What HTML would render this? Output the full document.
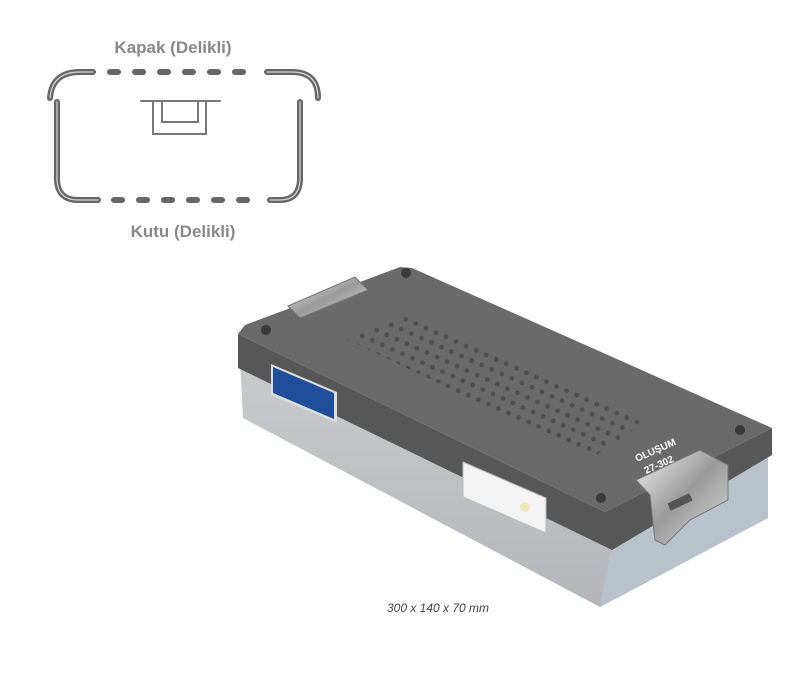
<!DOCTYPE html>
<html><head><meta charset="utf-8"><style>
html,body{margin:0;padding:0;background:#fff;width:800px;height:685px;overflow:hidden}
</style></head><body>
<svg width="800" height="685" viewBox="0 0 800 685" xmlns="http://www.w3.org/2000/svg">
<defs>
<pattern id="holes" width="11" height="11" patternUnits="userSpaceOnUse" patternTransform="rotate(24)">
<circle cx="5.5" cy="5.5" r="2.4" fill="#4e4e4e"/>
</pattern>
<clipPath id="hc"><polygon points="345,338 410,312 648,420 592,458"/></clipPath>
<linearGradient id="tray" x1="0" y1="0" x2="0" y2="1"><stop offset="0" stop-color="#c8cacc"/><stop offset="1" stop-color="#b4b6b9"/></linearGradient>
<linearGradient id="metal" x1="0" y1="0" x2="1" y2="1"><stop offset="0" stop-color="#f2f2f2"/><stop offset=".5" stop-color="#9a9a9a"/><stop offset="1" stop-color="#dcdcdc"/></linearGradient>
</defs>

<!-- diagram -->
<g fill="none" stroke-linecap="round">
<g stroke="#666" stroke-width="6">
<path d="M50,98 Q52,72 80,72 L93,72"/>
<path d="M267,72 L292,72 Q318,72 318,98"/>
<path d="M57,102 L57,180 Q58,200 78,200 L98,200"/>
<path d="M300,102 L300,180 Q299,200 280,200 L270,200"/>
<path d="M110,72 H260" stroke-dasharray="8,17"/>
<path d="M114,200 H262" stroke-dasharray="8,17"/>
</g>
<g stroke="#d8d8d8" stroke-width="1.2">
<path d="M50,98 Q52,72 80,72 L93,72"/>
<path d="M267,72 L292,72 Q318,72 318,98"/>
<path d="M57,102 L57,180 Q58,200 78,200 L98,200"/>
<path d="M300,102 L300,180 Q299,200 280,200 L270,200"/>
</g>
<g stroke="#777" stroke-width="2">
<path d="M141,101 H220"/>
<path d="M153,102 V134 H206 V102"/>
<path d="M162,102 V122 H198 V102"/>
</g>
</g>
<text x="173" y="53" text-anchor="middle" font-family="Liberation Sans, sans-serif" font-weight="bold" font-size="17" fill="#888">Kapak (Delikli)</text>
<text x="183" y="237" text-anchor="middle" font-family="Liberation Sans, sans-serif" font-weight="bold" font-size="17" fill="#888">Kutu (Delikli)</text>

<!-- tray -->
<polygon points="240,362 612,545 768,450 768,518 600,607 243,418" fill="url(#tray)"/>
<polygon points="612,545 768,450 768,518 600,607" fill="#b9c2cb"/>
<!-- lid side -->
<polygon points="238,334 605,512 772,428 772,455 612,550 238,368" fill="#575757"/>
<!-- lid top -->
<polygon points="238,334 245,325 400,267 412,268 772,428 605,512" fill="#6a6a6a"/>
<rect width="800" height="685" fill="url(#holes)" clip-path="url(#hc)"/>
<g fill="#3a3a3a"><circle cx="266" cy="330" r="5"/><circle cx="406" cy="273" r="5"/><circle cx="740" cy="430" r="5"/><circle cx="601" cy="498" r="5"/></g>

<!-- blue label -->
<polygon points="271,364 337,392 337,423 271,395" fill="#ddd"/>
<polygon points="273,367 334,393 334,419 273,393" fill="#1f4f9a"/>
<!-- white label -->
<polygon points="463,462 546,498 546,533 463,497" fill="#f3f3f3" stroke="#bbb"/>
<circle cx="525" cy="507" r="5" fill="#f1e6b8"/>

<!-- latches -->
<polygon points="288,306 355,277 368,290 300,318" fill="url(#metal)" stroke="#777"/>
<polygon points="636,480 700,450 728,465 728,500 690,520 665,545 655,540 650,495" fill="url(#metal)" stroke="#777"/>
<rect x="668" y="498" width="24" height="8" fill="#555" transform="rotate(-25 680 502)"/>

<text x="0" y="0" font-family="Liberation Sans, sans-serif" font-weight="bold" font-size="10" fill="#fff" transform="translate(637,462) rotate(-24)">OLUŞUM</text>
<text x="0" y="0" font-family="Liberation Sans, sans-serif" font-weight="bold" font-size="10" fill="#fff" transform="translate(646,474) rotate(-24)">27-302</text>

<text x="438" y="612" text-anchor="middle" font-family="Liberation Sans, sans-serif" font-style="italic" font-size="12" fill="#444">300 x 140 x 70 mm</text>
</svg>
</body></html>
